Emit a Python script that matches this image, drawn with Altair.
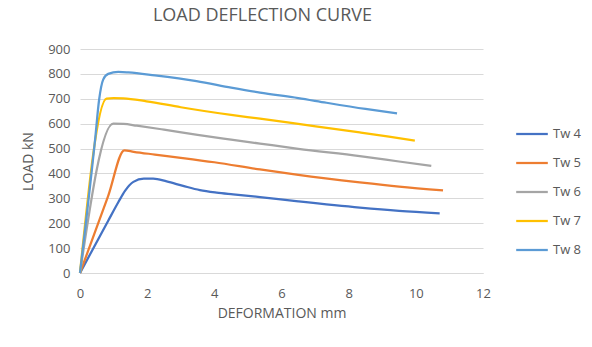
import altair as alt
import pandas as pd

series_names = ["Tw 4", "Tw 5", "Tw 6", "Tw 7", "Tw 8"]
colors = ["#4472C4", "#ED7D31", "#A5A5A5", "#FFC000", "#5B9BD5"]

tw4_x = [0, 0.84, 1.14, 1.34, 1.59, 1.9, 2.18, 2.58, 3.07, 3.57, 4.07, 4.56, 5.36, 6.5, 8.33, 9.5, 10.71]
tw4_y = [0, 210, 284, 330, 366, 379, 379, 368, 350, 333, 323, 316, 305, 288, 263, 250, 240]

tw5_x = [0, 0.84, 1.32, 1.6, 2.23, 3.0, 4.0, 5.36, 6.5, 8.33, 9.5, 10.81]
tw5_y = [0, 310, 493, 487, 476, 463, 445, 416, 394, 364, 347, 332]

tw6_x = [0, 0.99, 1.3, 1.69, 2.5, 3.5, 4.5, 5.36, 6.5, 8.33, 9.5, 10.46]
tw6_y = [0, 600, 599, 592, 576, 555, 536, 520, 499, 470, 448, 430]

tw7_x = [0, 0.79, 1.0, 1.29, 1.98, 3.0, 4.5, 5.36, 6.5, 8.33, 9.2, 9.97]
tw7_y = [0, 701, 703, 702, 690, 666, 635, 620, 599, 565, 548, 532]

tw8_x = [0, 0.45, 0.57, 0.69, 0.84, 1.14, 1.44, 2.23, 3.47, 4.5, 5.36, 6.5, 7.34, 8.5, 9.44]
tw8_y = [0, 537, 697, 777, 800, 808, 806, 794, 771, 745, 725, 703, 684, 659, 641]

xs = [tw4_x, tw5_x, tw6_x, tw7_x, tw8_x]
ys = [tw4_y, tw5_y, tw6_y, tw7_y, tw8_y]

rows = []
for name, sx, sy in zip(series_names, xs, ys):
    for i, (a, b) in enumerate(zip(sx, sy)):
        rows.append({"series": name, "x": a, "y": b, "order": i})
df = pd.DataFrame(rows)

FONT = "Open Sans"
TXT = "#595959"

chart = alt.Chart(df).mark_line(strokeWidth=2.25, interpolate="monotone").encode(
    x=alt.X("x:Q", title="DEFORMATION mm",
            scale=alt.Scale(domain=[0, 12], nice=False),
            axis=alt.Axis(values=[0, 2, 4, 6, 8, 10, 12], grid=False, ticks=False,
                          domainColor="#D9D9D9", domainWidth=1, labelFlush=False,
                          labelColor=TXT, labelFontSize=13, labelFont=FONT, labelPadding=14,
                          titleColor=TXT, titleFontSize=14, titleFont=FONT, titleFontWeight="normal",
                          titlePadding=6)),
    y=alt.Y("y:Q", title="LOAD kN",
            scale=alt.Scale(domain=[0, 900], nice=False),
            axis=alt.Axis(values=list(range(0, 901, 100)), grid=True, gridColor="#D9D9D9",
                          ticks=False, domain=False, labelFlush=False,
                          labelColor=TXT, labelFontSize=13, labelFont=FONT, labelPadding=10,
                          titleColor=TXT, titleFontSize=14, titleFont=FONT, titleFontWeight="normal",
                          titlePadding=12)),
    color=alt.Color("series:N", scale=alt.Scale(domain=series_names, range=colors),
                    legend=alt.Legend(title=None, orient="none", legendX=435, legendY=68,
                                      symbolType="M-1,0L1,0", symbolSize=1000, symbolStrokeWidth=2.25,
                                      labelColor=TXT, labelFontSize=13, labelFont=FONT,
                                      rowPadding=5, labelOffset=4)),
    order="order:Q",
).properties(
    width=403, height=224,
    title=alt.TitleParams("LOAD DEFLECTION CURVE", fontSize=18, font=FONT, color=TXT,
                          fontWeight="normal", anchor="middle", dx=-19, offset=18),
    autosize=alt.AutoSizeParams(type="none"),
    padding={"left": 80, "top": 49, "right": 109, "bottom": 74},
).configure_view(stroke=None)

chart.save("out.html", embed_options={"renderer": "svg", "actions": False})
